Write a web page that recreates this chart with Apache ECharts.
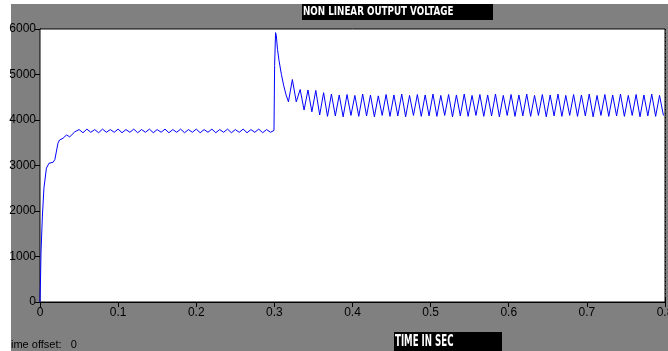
<!DOCTYPE html>
<html lang="en">
<head>
    <meta charset="UTF-8">
    <title>Non Linear Output Voltage</title>
    <script src="https://cdn.jsdelivr.net/npm/echarts@6/dist/echarts.min.js"></script>
    <style>
        body, html {
            margin: 0;
            padding: 0;
            width: 100%;
            height: 100%;
            background-color: #fff;
        }
        #chart {
            width: 668px;
            height: 351px;
        }
    </style>
</head>
<body>
    <div id="chart"></div>

    <script>
        // start-up transient (time in s, volts)
        var rampTime = [0, 0.0005, 0.0013, 0.003, 0.005, 0.0082, 0.0115, 0.0167, 0.019, 0.023, 0.025, 0.0295, 0.034, 0.038, 0.0445];
        var rampVolt = [0, 370, 1100, 1870, 2500, 2940, 3050, 3070, 3130, 3490, 3560, 3600, 3670, 3630, 3740];

        // small ripple before the load step, one value every half period
        var halfPeriod = 0.005;
        var ripple1Start = 0.05;
        var ripple1 = [3790, 3720, 3800, 3730, 3790, 3720, 3800, 3730, 3790, 3730, 3800, 3720,
                       3790, 3730, 3800, 3720, 3790, 3730, 3800, 3720, 3790, 3730, 3800, 3720,
                       3790, 3730, 3800, 3720, 3790, 3730, 3800, 3720, 3790, 3730, 3800, 3720,
                       3790, 3730, 3800, 3720, 3790, 3730, 3800, 3720, 3790, 3730, 3800, 3720,
                       3790, 3730];

        // load step at 0.3 s
        var stepTime = [0.2995, 0.3003, 0.3015, 0.3025, 0.304, 0.306, 0.309, 0.312, 0.315, 0.318];
        var stepVolt = [3770, 5200, 5920, 5850, 5550, 5300, 5000, 4750, 4550, 4400];

        // oscillation after the step, one value every half period
        var ripple2Start = 0.323;
        var ripple2 = [4890, 4400, 4670, 4220, 4660, 4180, 4650, 4110, 4600, 4080, 4570, 4090,
                       4550, 4070, 4560, 4100, 4540, 4080, 4570, 4090, 4550, 4070, 4530, 4100,
                       4560, 4080, 4550, 4090, 4570, 4070, 4540, 4100, 4560, 4080, 4550, 4090,
                       4570, 4080, 4540, 4100, 4560, 4070, 4550, 4090, 4570, 4080, 4540, 4100,
                       4560, 4080, 4550, 4090, 4570, 4070, 4540, 4100, 4560, 4080, 4550, 4090,
                       4570, 4080, 4540, 4100, 4560, 4070, 4550, 4090, 4570, 4080, 4540, 4100,
                       4560, 4080, 4550, 4090, 4570, 4070, 4540, 4100, 4560, 4080, 4550, 4090,
                       4570, 4080, 4540, 4100, 4560, 4070, 4550, 4090, 4570, 4080, 4540, 4100];

        var yTicks = [0, 1000, 2000, 3000, 4000, 5000, 6000];
        var xTicks = [0, 0.1, 0.2, 0.3, 0.4, 0.5, 0.6, 0.7, 0.8];

        var labelFont = "'Liberation Sans', Arial, sans-serif";
        var boxFont = "'DejaVu Sans Condensed', 'DejaVu Sans', sans-serif";

        var points = [];
        rampTime.forEach(function (t, i) { points.push([t, rampVolt[i]]); });
        ripple1.forEach(function (v, i) { points.push([ripple1Start + i * halfPeriod, v]); });
        stepTime.forEach(function (t, i) { points.push([t, stepVolt[i]]); });
        ripple2.forEach(function (v, i) {
            var t = ripple2Start + i * halfPeriod;
            if (t <= 0.8) points.push([t, v]);
        });

        var chart = echarts.init(document.getElementById('chart'));

        var tickStyle = { show: true, inside: true, length: 5, lineStyle: { color: '#000', width: 1 } };
        var dotted = { show: true, lineStyle: { color: '#000', width: 1, type: [1, 3] } };

        var option = {
            animation: false,
            backgroundColor: '#fff',
            grid: {
                left: 40, top: 29, right: 3, bottom: 49,
                outerBoundsMode: 'none',
                containLabel: false,
                show: true,
                backgroundColor: '#fff',
                borderColor: '#000',
                borderWidth: 1,
                z: 1
            },
            graphic: [
                { type: 'rect', z: -10, silent: true,
                  shape: { x: 11, y: 4, width: 657, height: 347 },
                  style: { fill: '#808080' } },
                { type: 'rect', z: 10, silent: true,
                  shape: { x: 302, y: 4, width: 191, height: 16 },
                  style: { fill: '#000' } },
                { type: 'text', z: 11, x: 303, y: 5, scaleX: 0.75, silent: true,
                  style: { text: 'NON LINEAR OUTPUT VOLTAGE', fill: '#fff',
                           textVerticalAlign: 'top', font: 'bold 13px ' + boxFont } },
                { type: 'rect', z: 10, silent: true,
                  shape: { x: 394, y: 332, width: 108, height: 19 },
                  style: { fill: '#000' } },
                { type: 'text', z: 11, x: 395, y: 335, scaleX: 0.64, silent: true,
                  style: { text: 'TIME IN SEC', fill: '#fff',
                           textVerticalAlign: 'top', font: 'bold 15px ' + boxFont } },
                { type: 'text', z: 11, x: 11, y: 339, silent: true,
                  style: { text: 'ime offset:   0', fill: '#000',
                           textVerticalAlign: 'top', font: '11px ' + labelFont } }
            ],
            xAxis: [{
                type: 'value',
                min: xTicks[0],
                max: xTicks[xTicks.length - 1],
                interval: 0.1,
                axisLine: { show: true, onZero: false, lineStyle: { color: '#000' } },
                axisTick: tickStyle,
                splitLine: dotted,
                axisLabel: {
                    color: '#000', fontSize: 12, fontFamily: labelFont, margin: 5,
                    formatter: function (v) { return v === 0 ? '0' : v.toFixed(1); }
                }
            }, {
                type: 'value',
                position: 'top',
                min: xTicks[0],
                max: xTicks[xTicks.length - 1],
                interval: 0.1,
                axisLine: { show: true, lineStyle: { color: '#000' } },
                axisTick: tickStyle,
                splitLine: { show: false },
                axisLabel: { show: false }
            }],
            yAxis: [{
                type: 'value',
                min: yTicks[0],
                max: yTicks[yTicks.length - 1],
                interval: 1000,
                axisLine: { show: true, onZero: false, lineStyle: { color: '#000' } },
                axisTick: tickStyle,
                splitLine: dotted,
                axisLabel: {
                    color: '#000', fontSize: 12, fontFamily: labelFont, margin: 4,
                    formatter: function (v) { return String(v); }
                }
            }, {
                type: 'value',
                position: 'right',
                min: yTicks[0],
                max: yTicks[yTicks.length - 1],
                interval: 1000,
                axisLine: { show: true, lineStyle: { color: '#000' } },
                axisTick: tickStyle,
                splitLine: { show: false },
                axisLabel: { show: false }
            }],
            series: [{
                type: 'line',
                xAxisIndex: 0,
                yAxisIndex: 0,
                data: points,
                showSymbol: false,
                clip: true,
                lineStyle: { color: '#0000ff', width: 1 },
                z: 5
            }]
        };

        chart.setOption(option);
    </script>
</body>
</html>
